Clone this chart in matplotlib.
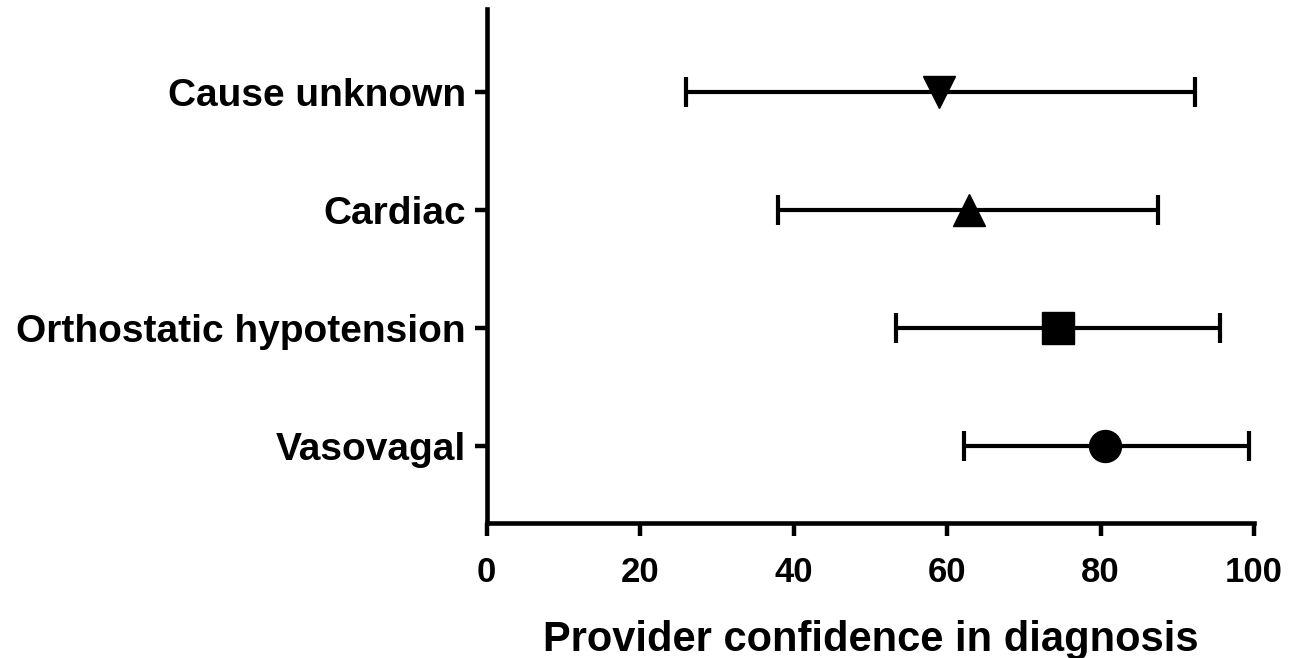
import numpy as np
import matplotlib
matplotlib.use('Agg')
import matplotlib.pyplot as plt

# Values
categories = ['Vasovagal', 'Orthostatic hypotension', 'Cardiac', 'Cause unknown']
means = [80.6, 74.4, 62.8, 59.0]
lower = [62.2, 53.3, 38.0, 26.0]
upper = [99.3, 95.5, 87.5, 92.3]
markers = ['o', 's', '^', 'v']
xticks = [0, 20, 40, 60, 80, 100]

fam = ['Liberation Sans', 'DejaVu Sans']

fig = plt.figure(figsize=(12.89, 6.58), dpi=100)
ax = fig.add_axes([0.3775, 0.2052, 0.5954, 0.7811])

ypos = np.arange(1, len(categories) + 1)
for y, m, lo, hi, mk in zip(ypos, means, lower, upper, markers):
    ax.errorbar([m], [y], xerr=[[m - lo], [hi - m]], fmt=mk, color='black',
                ms=23, elinewidth=3, capsize=10.8, capthick=3, zorder=3)

ax.set_xlim(0, 100)
ax.set_ylim(0.3475, 4.70)
ax.set_xticks(xticks)
ax.set_yticks(ypos)
ax.set_yticklabels(categories, family=fam, fontweight='bold', fontsize=28)
ax.set_xticklabels([str(t) for t in xticks], family=fam, fontweight='bold', fontsize=25)
ax.set_xlabel('Provider confidence in diagnosis', family=fam, fontweight='bold',
              fontsize=30, labelpad=22)

for side in ['top', 'right']:
    ax.spines[side].set_visible(False)
for side in ['left', 'bottom']:
    ax.spines[side].set_linewidth(3.3)
ax.tick_params(axis='both', direction='out', length=9, width=3.2)
ax.tick_params(axis='x', pad=15)
ax.tick_params(axis='y', pad=6)

fig.savefig('out.png', dpi=100)
